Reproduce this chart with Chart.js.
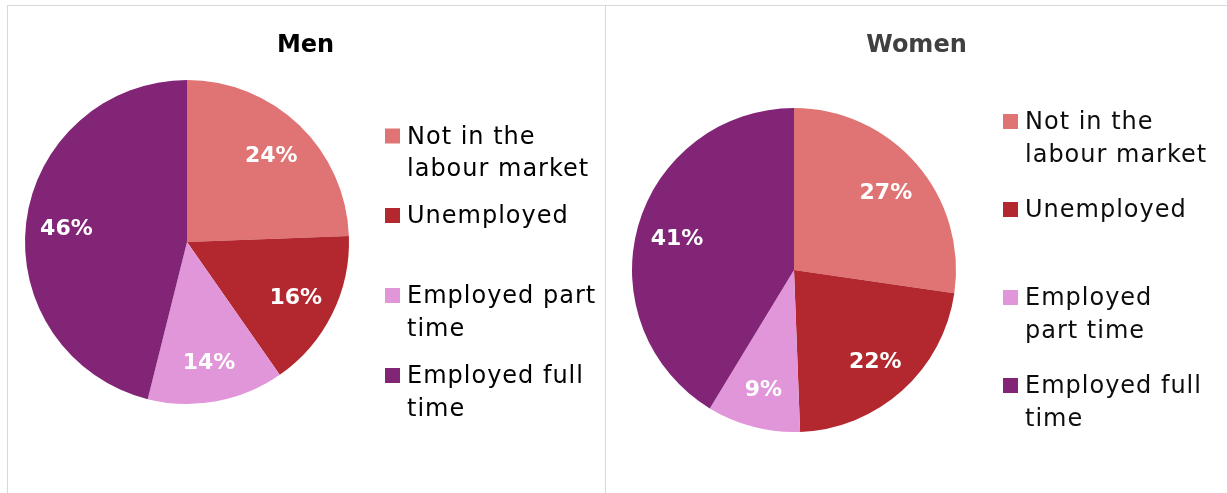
<!DOCTYPE html>
<html>
<head>
<meta charset="utf-8">
<script src="https://cdn.jsdelivr.net/npm/chart.js@4.4.0/dist/chart.umd.min.js"></script>
<style>
html,body{margin:0;padding:0;background:#fff;width:1227px;height:493px;overflow:hidden;}
#wrap{position:relative;width:1227px;height:493px;}
.panel{position:absolute;border:1px solid #d9d9d9;box-sizing:border-box;}
#p1{left:7px;top:5px;width:599px;height:520px;}
#p2{left:605px;top:5px;width:640px;height:520px;}
canvas{position:absolute;top:0;}
#c1{left:0;}
#c2{left:606px;}
</style>
</head>
<body>
<div id="wrap">
  <div class="panel" id="p1"></div>
  <div class="panel" id="p2"></div>
  <canvas id="c1" width="606" height="493"></canvas>
  <canvas id="c2" width="621" height="493"></canvas>
</div>
<script>
// ---- data ----
const categories = ['Not in the labour market', 'Unemployed', 'Employed part time', 'Employed full time'];
const menValues = [24.4, 15.9, 13.6, 46.1];
const womenValues = [27.3, 22.1, 9.3, 41.3];
const menLegendText = [['Not in the', 'labour market'], ['Unemployed'], ['Employed part', 'time'], ['Employed full', 'time']];
const womenLegendText = [['Not in the', 'labour market'], ['Unemployed'], ['Employed', 'part time'], ['Employed full', 'time']];
const chartTitles = ['Men', 'Women'];
const sliceColors = ['#E07373', '#B3282E', '#E096D8', '#822577'];

function makeOverlay(id, cfg) {
  return {
    id: id,
    afterDatasetsDraw(chart) {
      const ctx = chart.ctx;
      const meta = chart.getDatasetMeta(0);
      const vals = chart.data.datasets[0].data;
      ctx.save();
      ctx.font = 'bold 22px "DejaVu Sans"';
      ctx.fillStyle = '#ffffff';
      ctx.textAlign = 'center';
      ctx.textBaseline = 'alphabetic';
      meta.data.forEach((arc, i) => {
        const p = arc.getProps(['x', 'y', 'startAngle', 'endAngle', 'outerRadius'], true);
        const mid = (p.startAngle + p.endAngle) / 2;
        const d = p.outerRadius * cfg.labelRadius;
        ctx.fillText(Math.round(vals[i]) + '%', p.x + Math.cos(mid) * d, p.y + Math.sin(mid) * d + 8);
      });
      ctx.restore();
    },
    afterDraw(chart) {
      const ctx = chart.ctx;
      ctx.save();
      // title
      ctx.font = 'bold 24px "DejaVu Sans"';
      ctx.fillStyle = cfg.titleColor;
      ctx.textAlign = 'center';
      ctx.textBaseline = 'alphabetic';
      ctx.fillText(cfg.title, cfg.titleX, cfg.titleY);
      // legend
      ctx.font = '24px "DejaVu Sans"';
      try { ctx.letterSpacing = '1px'; } catch (e) {}
      ctx.textAlign = 'left';
      const colors = chart.data.datasets[0].backgroundColor;
      cfg.legend.forEach((lines, i) => {
        const base = cfg.legendBaselines[i];
        ctx.fillStyle = colors[i];
        ctx.fillRect(cfg.legendX, base - 15, 15, 15);
        ctx.fillStyle = cfg.textColor;
        lines.forEach((t, j) => {
          ctx.fillText(t, cfg.legendX + 22, base + j * cfg.lineGap);
        });
      });
      ctx.restore();
    }
  };
}

function makePie(canvasId, values, padding, overlay) {
  return new Chart(document.getElementById(canvasId), {
    type: 'pie',
    data: {
      labels: categories,
      datasets: [{
        data: values,
        backgroundColor: sliceColors,
        borderWidth: 0
      }]
    },
    options: {
      responsive: false,
      animation: false,
      events: [],
      layout: { padding: padding },
      plugins: {
        legend: { display: false },
        tooltip: { enabled: false },
        title: { display: false }
      }
    },
    plugins: [overlay]
  });
}

makePie('c1', menValues, { left: 25, top: 80, right: 257, bottom: 89 },
  makeOverlay('overlayMen', {
    title: chartTitles[0], titleColor: '#000000', titleX: 305.5, titleY: 52,
    legend: menLegendText, legendX: 385, legendBaselines: [143.5, 223, 303, 383],
    lineGap: 32.5, textColor: '#000000', labelRadius: 0.75
  }));

makePie('c2', womenValues, { left: 26, top: 108, right: 271, bottom: 61 },
  makeOverlay('overlayWomen', {
    title: chartTitles[1], titleColor: '#404040', titleX: 310.5, titleY: 52,
    legend: womenLegendText, legendX: 397, legendBaselines: [129, 217, 305, 393],
    lineGap: 33, textColor: '#0d0d0d', labelRadius: 0.75
  }));
</script>
</body>
</html>
